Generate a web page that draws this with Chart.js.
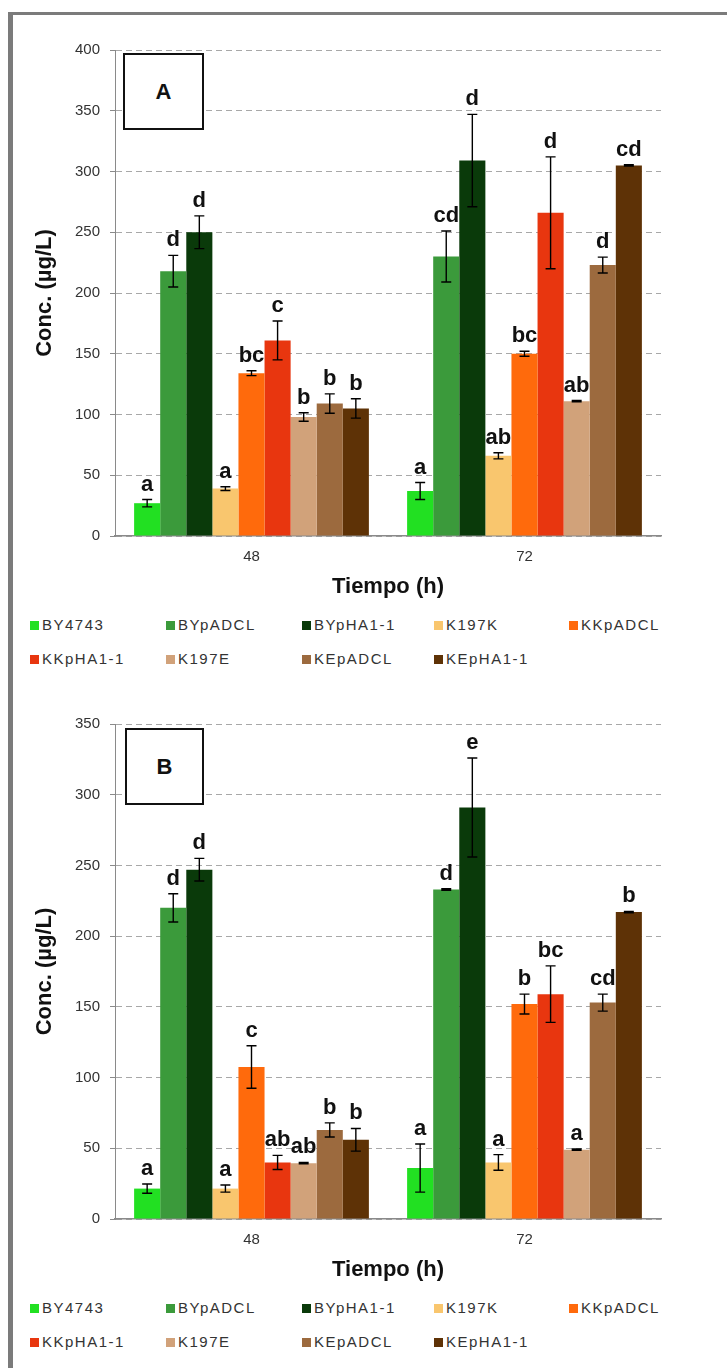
<!DOCTYPE html>
<html>
<head>
<meta charset="utf-8">
<script src="https://cdn.jsdelivr.net/npm/chart.js@4.4.1/dist/chart.umd.min.js"></script>
<style>
    body { margin: 0; background: #fff; width: 727px; height: 1368px; overflow: hidden; position: relative; font-family: "Liberation Sans", Arial, sans-serif; }
    #frame { position: absolute; left: 8px; top: 12px; right: 0; bottom: 0; border-left: 5px solid #7b7b7b; border-top: 3px solid #7b7b7b; }
    canvas { position: absolute; left: 0; }
    .panel { position: absolute; border: 2px solid #111; box-sizing: border-box; background: #fff; font: bold 22px "Liberation Sans", Arial, sans-serif; color: #111; display: flex; align-items: center; justify-content: center; z-index: 2; }
    .item { position: absolute; font-size: 15px; letter-spacing: 1.5px; color: #333; white-space: nowrap; line-height: 16px; }
    .sw { display: inline-block; width: 9px; height: 9px; margin-right: 3px; vertical-align: 0px; }
</style>
</head>
<body>
<div id="frame"></div>
<canvas id="chartA" width="727" height="600" style="top:0px"></canvas>
<canvas id="chartB" width="727" height="600" style="top:683px"></canvas>
<div class="panel" style="left:123px;top:53px;width:81px;height:77px">A</div>
<div class="panel" style="left:125px;top:728px;width:79px;height:77px">B</div>
<div id="legendA"></div>
<div id="legendB"></div>

<script>
// Categories and series
const times = ['48', '72'];
const strains = ['BY4743', 'BYpADCL', 'BYpHA1-1', 'K197K', 'KKpADCL', 'KKpHA1-1', 'K197E', 'KEpADCL', 'KEpHA1-1'];
const colors = ['#22e022', '#3b9a3b', '#0a3a0a', '#f9c66e', '#ff6a0c', '#e8360f', '#d1a27a', '#9c6a3e', '#5e3206'];

// Panel A (µg/L)
const concA48 = [27, 218, 250, 39, 134, 161, 98, 109, 105];
const concA72 = [37, 230, 309, 66, 150, 266, 111, 223, 305];
const errA48 = [3, 13, 13.5, 1.5, 2, 16, 3.5, 8, 8];
const errA72 = [7, 21, 38, 2.5, 2, 46, 0.5, 6.5, 0.5];
const lettersA48 = ['a', 'd', 'd', 'a', 'bc', 'c', 'b', 'b', 'b'];
const lettersA72 = ['a', 'cd', 'd', 'ab', 'bc', 'd', 'ab', 'd', 'cd'];
const ticksA = [0, 50, 100, 150, 200, 250, 300, 350, 400];

// Panel B (µg/L)
const concB48 = [21.5, 220, 247, 21.5, 107.5, 40, 39.5, 63, 56];
const concB72 = [36, 233, 291, 40, 152, 159, 49, 153, 217];
const errB48 = [3.3, 10, 8, 2.5, 15, 5, 0.5, 5, 8];
const errB72 = [17, 0.5, 35, 5.5, 7, 20, 0.5, 6, 0.5];
const lettersB48 = ['a', 'd', 'd', 'a', 'c', 'ab', 'ab', 'b', 'b'];
const lettersB72 = ['a', 'd', 'e', 'a', 'b', 'bc', 'a', 'cd', 'b'];
const ticksB = [0, 50, 100, 150, 200, 250, 300, 350];

const FONT = '"Liberation Sans", Arial, sans-serif';

// Error bars and significance letters drawn on top of the bars
const errorBarPlugin = {
    id: 'errorBars',
    afterDatasetsDraw(chart) {
        const ctx = chart.ctx;
        const yScale = chart.scales.y;
        chart.data.datasets.forEach((ds, i) => {
            const meta = chart.getDatasetMeta(i);
            meta.data.forEach((bar, j) => {
                const v = ds.data[j];
                const e = ds.errors[j];
                const top = yScale.getPixelForValue(v + e);
                const bot = yScale.getPixelForValue(v - e);
                ctx.save();
                ctx.strokeStyle = '#000';
                ctx.lineWidth = 1.4;
                ctx.beginPath();
                ctx.moveTo(bar.x, top); ctx.lineTo(bar.x, bot);
                ctx.moveTo(bar.x - 5, top); ctx.lineTo(bar.x + 5, top);
                ctx.moveTo(bar.x - 5, bot); ctx.lineTo(bar.x + 5, bot);
                ctx.stroke();
                ctx.font = 'bold 22px ' + FONT;
                ctx.fillStyle = '#111';
                ctx.textAlign = 'center';
                ctx.textBaseline = 'alphabetic';
                ctx.fillText(ds.letters[j], bar.x, top - 9);
                ctx.restore();
            });
        });
    }
};

function buildDatasets(c48, c72, e48, e72, l48, l72) {
    return strains.map((name, i) => ({
        label: name,
        data: [c48[i], c72[i]],
        errors: [e48[i], e72[i]],
        letters: [l48[i], l72[i]],
        backgroundColor: colors[i],
        borderWidth: 0,
        barPercentage: 1,
        categoryPercentage: 0.86
    }));
}

function makeChart(id, datasets, ticks, topPad) {
    const ctx = document.getElementById(id).getContext('2d');
    return new Chart(ctx, {
        type: 'bar',
        data: { labels: times, datasets: datasets },
        options: {
            responsive: false,
            animation: false,
            devicePixelRatio: 1,
            layout: { padding: { top: topPad, right: 66, left: 0, bottom: 0 } },
            plugins: { legend: { display: false }, tooltip: { enabled: false } },
            scales: {
                x: {
                    grid: { display: true, drawOnChartArea: false, drawTicks: false },
                    border: { display: true, color: '#8a8a8a', width: 1.5 },
                    ticks: { color: '#333', font: { family: FONT, size: 15 }, padding: 12 },
                    title: { display: true, text: 'Tiempo (h)', color: '#111', font: { family: FONT, size: 22, weight: 'bold' }, padding: { top: 0, bottom: 0 } },
                    afterFit: (s) => { s.height = 600 - 536; }
                },
                y: {
                    min: 0,
                    max: ticks[ticks.length - 1],
                    afterBuildTicks: (s) => { s.ticks = ticks.map(v => ({ value: v })); },
                    grid: { color: '#a8a8a8', lineWidth: 1, drawTicks: true, tickLength: 5, tickColor: '#8a8a8a' },
                    border: { display: true, color: '#8a8a8a', width: 1, dash: [6, 4] },
                    ticks: { color: '#333', font: { family: FONT, size: 15 }, padding: 10 },
                    title: { display: true, text: 'Conc. (µg/L)', color: '#111', font: { family: FONT, size: 22, weight: 'bold' }, padding: { top: 32, bottom: 0 } },
                    afterFit: (s) => { s.width = 115; }
                }
            }
        },
        plugins: [errorBarPlugin]
    });
}

// HTML legend laid out in Excel's fixed grid
function buildLegend(id, rowTops) {
    const holder = document.getElementById(id);
    const cols = [30, 166, 302, 434, 569];
    strains.forEach((name, i) => {
        const item = document.createElement('div');
        item.className = 'item';
        item.style.left = cols[i % 5] + 'px';
        item.style.top = rowTops[Math.floor(i / 5)] + 'px';
        item.innerHTML = '<span class="sw" style="background:' + colors[i] + '"></span>' + name;
        holder.appendChild(item);
    });
}

makeChart('chartA', buildDatasets(concA48, concA72, errA48, errA72, lettersA48, lettersA72), ticksA, 50);
makeChart('chartB', buildDatasets(concB48, concB72, errB48, errB72, lettersB48, lettersB72), ticksB, 41);
buildLegend('legendA', [617, 651]);
buildLegend('legendB', [1300, 1334]);
</script>
</body>
</html>
